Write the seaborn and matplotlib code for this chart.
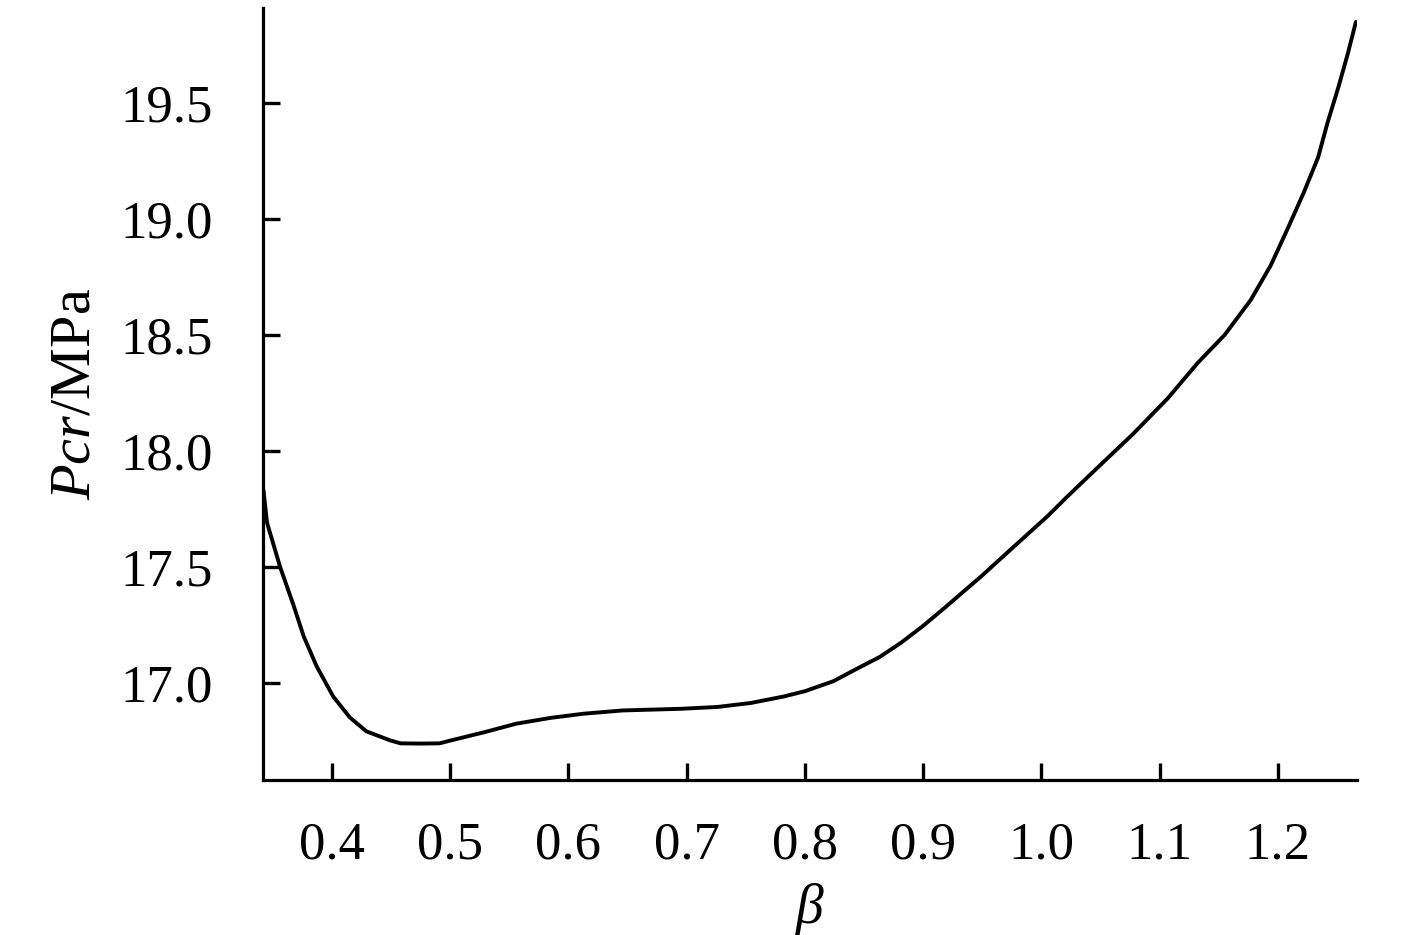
import pandas as pd
import matplotlib
matplotlib.use("Agg")
import matplotlib.pyplot as plt
from matplotlib.ticker import FormatStrFormatter
import seaborn as sns

# values
beta = [0.342, 0.345, 0.356, 0.367, 0.376, 0.387, 0.401, 0.415, 0.429, 0.449,
        0.458, 0.475, 0.491, 0.500, 0.528, 0.556, 0.585, 0.613, 0.646, 0.695,
        0.726, 0.754, 0.782, 0.800, 0.824, 0.844, 0.863, 0.881, 0.900, 0.918,
        0.949, 0.977, 1.005, 1.022, 1.047, 1.077, 1.107, 1.132, 1.155, 1.177,
        1.194, 1.208, 1.222, 1.234, 1.242, 1.251, 1.259, 1.266]
pcr = [17.83, 17.69, 17.50, 17.34, 17.20, 17.07, 16.94, 16.85, 16.79, 16.751,
       16.738, 16.737, 16.738, 16.75, 16.785, 16.823, 16.848, 16.866, 16.88, 16.887,
       16.895, 16.912, 16.94, 16.963, 17.006, 17.06, 17.11, 17.171, 17.245, 17.322,
       17.458, 17.588, 17.717, 17.803, 17.925, 18.07, 18.227, 18.378, 18.50, 18.65,
       18.80, 18.955, 19.115, 19.265, 19.415, 19.565, 19.71, 19.85]

x_ticks = [0.4, 0.5, 0.6, 0.7, 0.8, 0.9, 1.0, 1.1, 1.2]
y_ticks = [17.0, 17.5, 18.0, 18.5, 19.0, 19.5]

df = pd.DataFrame({"beta": beta, "pcr": pcr})

sns.set_style("ticks")
plt.rcParams["font.family"] = ["Liberation Serif", "DejaVu Serif"]
plt.rcParams["mathtext.fontset"] = "custom"
plt.rcParams["mathtext.rm"] = "Liberation Serif"
plt.rcParams["mathtext.it"] = "Liberation Serif:italic"
plt.rcParams["xtick.labelcolor"] = "black"
plt.rcParams["ytick.labelcolor"] = "black"

fig = plt.figure(figsize=(14.17, 9.35), dpi=100)
ax = fig.add_axes([0.1856, 0.1658, 0.9577 - 0.1856, 0.9914 - 0.1658])
sns.lineplot(data=df, x="beta", y="pcr", sort=False, estimator=None,
             color="black", lw=2.8, ax=ax)

ax.set_xlim(0.3416, 1.267)
ax.set_ylim(16.58, 19.91)
ax.set_xticks(x_ticks)
ax.set_yticks(y_ticks)
ax.xaxis.set_major_formatter(FormatStrFormatter("%.1f"))
ax.yaxis.set_major_formatter(FormatStrFormatter("%.1f"))

ax.tick_params(axis="x", direction="in", length=0, labelsize=38, pad=30)
ax.tick_params(axis="y", direction="in", length=0, labelsize=38, pad=36)

# inward tick marks drawn from the tick lists (about 17 px long)
ax.vlines(x_ticks, 0, 0.022, transform=ax.get_xaxis_transform(),
          color="black", lw=2.4, clip_on=False, zorder=3)
ax.hlines(y_ticks, 0, 0.0155, transform=ax.get_yaxis_transform(),
          color="black", lw=2.4, clip_on=False, zorder=3)

sns.despine(ax=ax)
for s in ["left", "bottom"]:
    ax.spines[s].set_linewidth(2.3)
    ax.spines[s].set_color("black")

ax.set_xlabel(r"$\beta$", fontsize=40, labelpad=8, color="black")
ax.set_ylabel(r"$\mathit{Pcr}$/MPa", fontsize=42, labelpad=14, color="black")

fig.savefig("out.png", dpi=100, facecolor="white")
